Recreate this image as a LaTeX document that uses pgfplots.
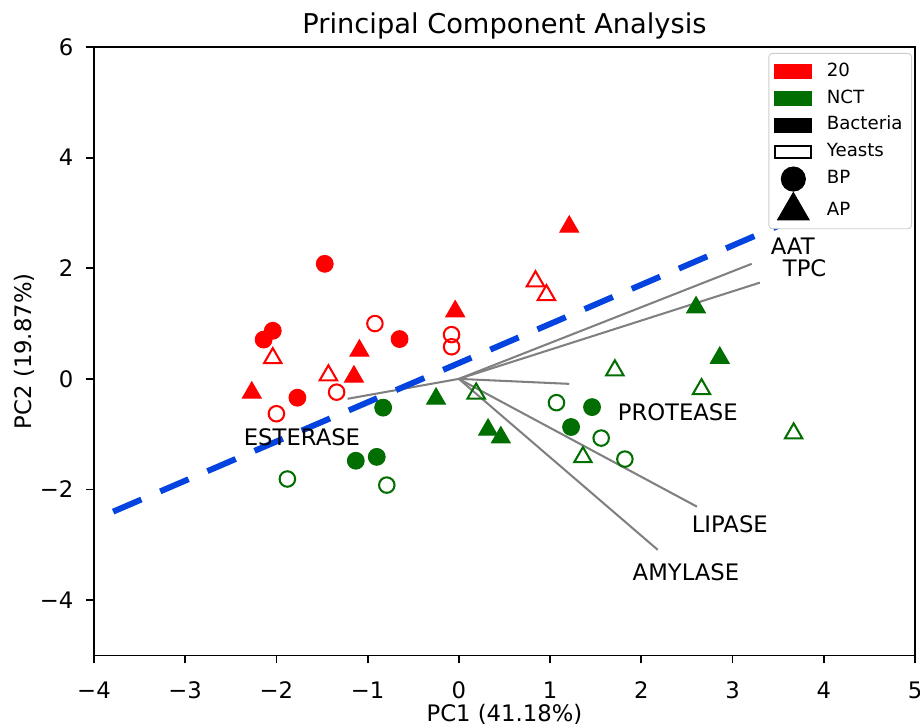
\documentclass[border=0pt]{standalone}
\usepackage{fontspec}
\setmainfont{DejaVu Sans}
\usepackage{pgfplots}
\pgfplotsset{compat=1.18}
\definecolor{cred}{HTML}{FF0000}
\definecolor{cgreen}{HTML}{006E00}
\definecolor{cblue}{HTML}{0343DF}
\definecolor{cgray}{HTML}{808080}

\begin{document}
\begin{tikzpicture}
\begin{axis}[
  scale only axis, width=360bp, height=266.8bp,
  xmin=-4, xmax=5, ymin=-5, ymax=6,
  xtick={-4,-3,-2,-1,0,1,2,3,4,5},
  xticklabels={−4,−3,−2,−1,0,1,2,3,4,5},
  ytick={-4,-2,0,2,4,6},
  yticklabels={−4,−2,0,2,4,6},
  xtick pos=bottom, ytick pos=left,
  tick align=outside, major tick length=3.5bp,
  tick style={black, line width=0.8bp},
  axis line style={line width=0.8bp},
  tick label style={font=\fontsize{10}{12}\selectfont},
  xticklabel style={anchor=base, inner sep=0pt, yshift=-15.3bp},
  yticklabel style={anchor=east, inner sep=0pt, xshift=-5.3bp},
  every axis x label/.style={at={(axis description cs:0.5,0)}, yshift=-28.9bp, anchor=base, font=\fontsize{10}{12}\selectfont},
  every axis y label/.style={at={(axis description cs:0,0.5)}, xshift=-27.5bp, rotate=90, anchor=base, font=\fontsize{10}{12}\selectfont},
  every axis title/.style={at={(axis description cs:0.5,1)}, yshift=6.1bp, anchor=base, font=\fontsize{12}{14}\selectfont},
  title={Principal Component Analysis},
  xlabel={PC1 (41.18\%)},
  ylabel={PC2 (19.87\%)},
  legend cell align=left,
  legend style={at={(axis description cs:1,1)}, anchor=north east,
    xshift=-1.3bp, yshift=-2.6bp, draw=black!20, rounded corners=1.5bp,
    font=\fontsize{8}{9.6}\selectfont, inner sep=2bp,
    nodes={text height=6bp, text depth=1.8bp, inner sep=2bp},
    /tikz/every odd column/.append style={column sep=4.5bp},
    row sep=0pt},
]
% legend
\addlegendimage{legend image code/.code={\fill[cred, sharp corners] (0bp,-3bp) rectangle (16.5bp,3bp);}}
\addlegendentry{20}
\addlegendimage{legend image code/.code={\fill[cgreen, sharp corners] (0bp,-3bp) rectangle (16.5bp,3bp);}}
\addlegendentry{NCT}
\addlegendimage{legend image code/.code={\fill[black, sharp corners] (0bp,-3bp) rectangle (16.5bp,3bp);}}
\addlegendentry{Bacteria\hspace{2.8bp}}
\addlegendimage{legend image code/.code={\draw[black, sharp corners, line width=0.8bp, fill=white] (0.4bp,-2.6bp) rectangle (16.1bp,2.6bp);}}
\addlegendentry{Yeasts}
\addlegendimage{only marks, mark=*, mark size=5.3bp, black}
\addlegendentry{BP}
\addlegendimage{only marks, mark=triangle*, mark size=8bp, black, mark options={sharp corners}}
\addlegendentry{AP}

% 20 - bacteria BP
\addplot[only marks, mark=*, mark size=3.7bp, cred, forget plot] coordinates {
  (-1.47,2.08) (-2.14,0.71) (-2.04,0.87) (-1.77,-0.34) (-0.65,0.72)};
% 20 - yeasts BP
\addplot[only marks, mark=o, mark size=3.4bp, cred, mark options={line width=0.9bp, fill=white}, forget plot] coordinates {
  (-0.92,1.00) (-1.34,-0.24) (-2.00,-0.63) (-0.08,0.80) (-0.08,0.58)};
% 20 - bacteria AP
\addplot[only marks, mark=triangle*, mark size=4.8bp, cred, mark options={yshift=-1.2bp}, forget plot] coordinates {
  (1.21,2.80) (-0.04,1.27) (-1.09,0.56) (-1.15,0.09) (-2.27,-0.20)};
% 20 - yeasts AP
\addplot[only marks, mark=triangle, mark size=4.4bp, cred, mark options={line width=0.9bp, yshift=-1.1bp, fill=white}, forget plot] coordinates {
  (-2.04,0.42) (-1.43,0.11) (0.84,1.81) (0.96,1.56)};
% NCT - bacteria BP
\addplot[only marks, mark=*, mark size=3.7bp, cgreen, forget plot] coordinates {
  (-0.83,-0.52) (-1.13,-1.48) (-0.90,-1.41) (1.46,-0.51) (1.23,-0.87)};
% NCT - yeasts BP
\addplot[only marks, mark=o, mark size=3.4bp, cgreen, mark options={line width=0.9bp, fill=white}, forget plot] coordinates {
  (-1.88,-1.81) (-0.79,-1.92) (1.07,-0.43) (1.56,-1.07) (1.82,-1.45)};
% NCT - bacteria AP
\addplot[only marks, mark=triangle*, mark size=4.8bp, cgreen, mark options={yshift=-1.2bp}, forget plot] coordinates {
  (-0.25,-0.31) (0.32,-0.87) (0.46,-1.01) (2.60,1.34) (2.86,0.43)};
% NCT - yeasts AP
\addplot[only marks, mark=triangle, mark size=4.4bp, cgreen, mark options={line width=0.9bp, yshift=-1.1bp, fill=white}, forget plot] coordinates {
  (0.19,-0.22) (1.71,0.20) (2.66,-0.14) (3.67,-0.94) (1.36,-1.37)};

% loadings
\addplot[cgray, line width=0.9bp, forget plot] coordinates {(0,0) (3.21,2.08)};
\addplot[cgray, line width=0.9bp, forget plot] coordinates {(0,0) (3.30,1.74)};
\addplot[cgray, line width=0.9bp, forget plot] coordinates {(0,0) (1.21,-0.09)};
\addplot[cgray, line width=0.9bp, forget plot] coordinates {(0,0) (2.61,-2.31)};
\addplot[cgray, line width=0.9bp, forget plot] coordinates {(0,0) (2.18,-3.09)};
\addplot[cgray, line width=0.9bp, forget plot] coordinates {(0,0) (-1.22,-0.36)};

% separation line
\addplot[cblue, line width=2.6bp, dash pattern=on 13.5bp off 9bp, forget plot] coordinates {(-3.79,-2.40) (3.55,2.80)};

\node[font=\fontsize{10}{12}\selectfont] at (axis cs:3.66,2.40) {AAT};
\node[font=\fontsize{10}{12}\selectfont] at (axis cs:3.79,2.00) {TPC};
\node[font=\fontsize{10}{12}\selectfont] at (axis cs:2.40,-0.61) {PROTEASE};
\node[font=\fontsize{10}{12}\selectfont] at (axis cs:2.97,-2.63) {LIPASE};
\node[font=\fontsize{10}{12}\selectfont] at (axis cs:2.49,-3.49) {AMYLASE};
\node[font=\fontsize{10}{12}\selectfont] at (axis cs:-1.72,-1.05) {ESTERASE};
\end{axis}
\pgfresetboundingbox
\path[use as bounding box] ([xshift=-41.2bp, yshift=-31.4bp]current axis.south west) rectangle ([xshift=2.2bp, yshift=20.6bp]current axis.north east);
\end{tikzpicture}
\end{document}
